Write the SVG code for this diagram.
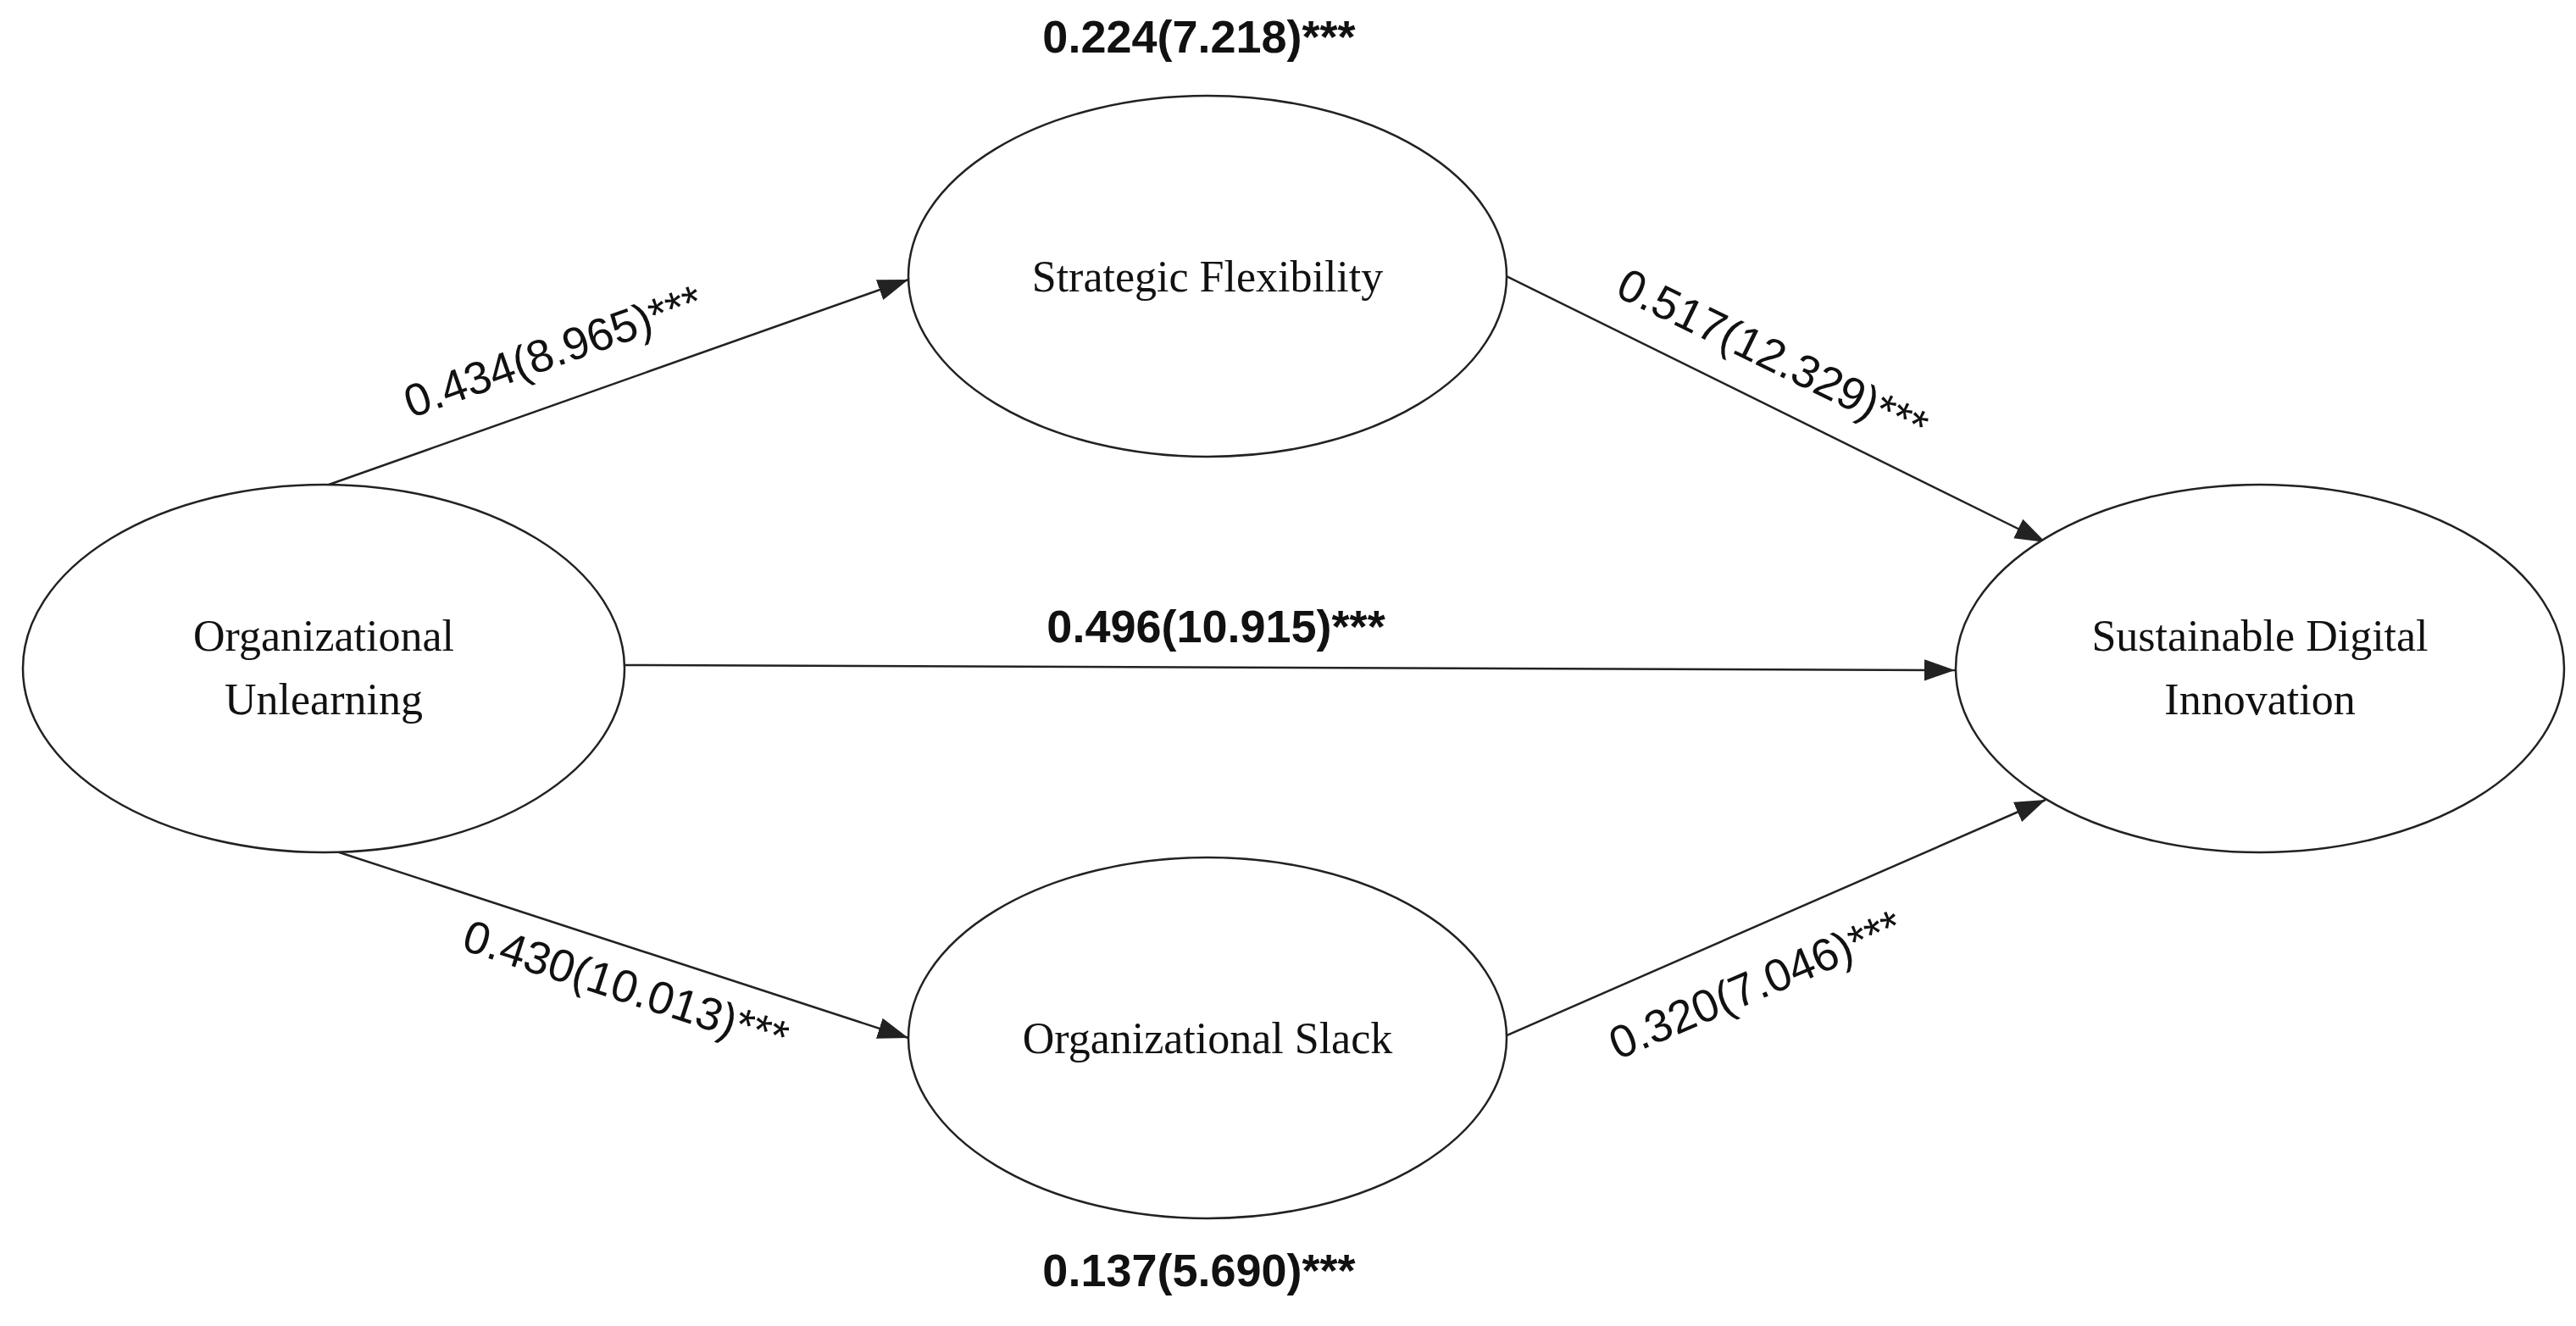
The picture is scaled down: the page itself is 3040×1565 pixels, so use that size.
<svg xmlns="http://www.w3.org/2000/svg" width="3040" height="1565" viewBox="0 0 3040 1565">
<style>
.n{fill:#fff;stroke:#222;stroke-width:2.5}
.t{font-family:"Liberation Serif",serif;font-size:52px;fill:#111;text-anchor:middle}
.l{font-family:"Liberation Sans",sans-serif;font-size:54px;fill:#111;text-anchor:middle}
.b{font-weight:bold}
.c{stroke:#222;stroke-width:2.5;fill:none;marker-end:url(#a)}
</style>
<defs><marker id="a" viewBox="0 0 10 10" refX="10" refY="5" markerWidth="14" markerHeight="14" markerUnits="userSpaceOnUse" orient="auto"><path d="M0,0L10,5L0,10z" fill="#222"/></marker>
<marker id="a2" viewBox="0 0 10 10" refX="10" refY="5" markerWidth="36" markerHeight="36" markerUnits="userSpaceOnUse" orient="auto"><path d="M0,1.5L10,5L0,8.5z" fill="#222"/></marker></defs>
<rect width="3040" height="1565" fill="#fff"/>
<g id="connectors" style="marker-end:url(#a2)">
<path class="c" style="marker-end:url(#a2)" d="M388,572L1072,330"/>
<path class="c" style="marker-end:url(#a2)" d="M1778,326L2414,640"/>
<path class="c" style="marker-end:url(#a2)" d="M737,785L2307,791"/>
<path class="c" style="marker-end:url(#a2)" d="M388,1002L1072,1225"/>
<path class="c" style="marker-end:url(#a2)" d="M1778,1222L2414,944"/>
</g>
<g id="ou"><ellipse class="n" cx="382" cy="789" rx="355" ry="217"/><text class="t" x="382" y="768">Organizational</text><text class="t" x="382" y="843">Unlearning</text></g>
<g id="sf"><ellipse class="n" cx="1425" cy="326" rx="353" ry="213"/><text class="t" x="1425" y="344">Strategic Flexibility</text></g>
<g id="os"><ellipse class="n" cx="1425" cy="1225" rx="353" ry="213"/><text class="t" x="1425" y="1243">Organizational Slack</text></g>
<g id="sdi"><ellipse class="n" cx="2667" cy="789" rx="359" ry="217"/><text class="t" x="2667" y="768">Sustainable Digital</text><text class="t" x="2667" y="843">Innovation</text></g>
<g id="labels">
<text class="l b" x="1415" y="62">0.224(7.218)***</text>
<text class="l b" x="1435" y="758">0.496(10.915)***</text>
<text class="l b" x="1415" y="1518">0.137(5.690)***</text>
<text class="l" transform="translate(659,432) rotate(-19.5)">0.434(8.965)***</text>
<text class="l" transform="translate(2084,436) rotate(26)">0.517(12.329)***</text>
<text class="l" transform="translate(733,1182) rotate(18)">0.430(10.013)***</text>
<text class="l" transform="translate(2079,1179) rotate(-23)">0.320(7.046)***</text>
</g>
</svg>
